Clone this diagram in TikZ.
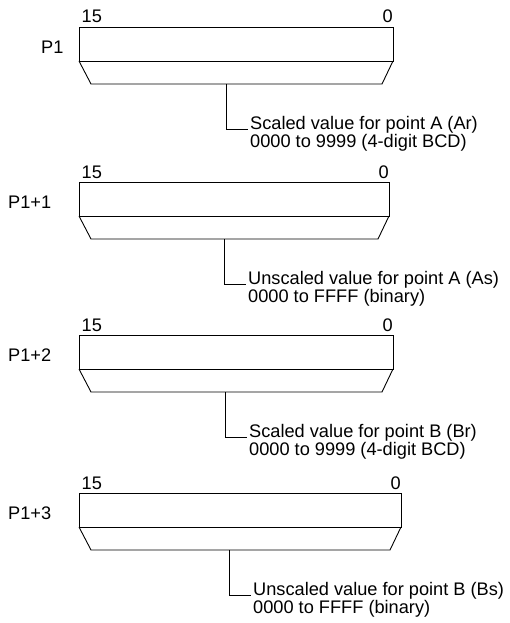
\documentclass[tikz,border=0pt]{standalone}
\usepackage{fontspec}
\setmainfont{Liberation Sans}
\usepackage{tikz}
\usetikzlibrary{positioning}

\tikzset{
  regline/.style={line width=0.9pt, black},
  bitnum/.style={inner sep=0pt},
  regname/.style={inner sep=0pt, anchor=west},
  desc/.style={inner xsep=2pt, inner ysep=0pt, anchor=base west}
}

\begin{document}
\begin{tikzpicture}[x=1pt, y=-1pt, every node/.style={font=\fontsize{18.2}{18.5}\selectfont}]
  \useasboundingbox (0,0) rectangle (509,623);
  \def\L{79}

  % ONE WORD PER OPERAND: box, skirt, bit numbers, name and meaning
  \foreach \i/\t/\r/\s/\px/\reg/\lineA/\lineB in {
      1/27/393/226/41/{P1}/{Scaled value for point A (Ar)}/{0000 to 9999 (4-digit BCD)},
      2/182/389/224/8/{P1+1}/{Unscaled value for point A (As)}/{0000 to FFFF (binary)},
      3/335/393/225/8/{P1+2}/{Scaled value for point B (Br)}/{0000 to 9999 (4-digit BCD)},
      4/493/401/229/8/{P1+3}/{Unscaled value for point B (Bs)}/{0000 to FFFF (binary)}} {
    \draw[regline] (\L,\t) rectangle (\r,\t+34);
    \draw[regline] (\L,\t+34) -- (\L+12,\t+57) -- (\r-11,\t+57) -- (\r,\t+34);

    \node[bitnum, anchor=base west] (msb\i) at (\L+2.5,\t-4) {15};
    \node[bitnum, anchor=base east] (lsb\i) at (\r,\t-4) {0};
    \node[regname] (reg\i) at (\px,\t+20) {\reg};

    % LEADER TO THE MEANING
    \coordinate (stem\i) at (\s,\t+57);
    \node[desc] (val\i) at (\s+22,\t+102) {\lineA};
    \node[desc] (rng\i) at ([yshift=-18.5pt]val\i.base west) {\lineB};
    \draw[regline] (stem\i) |- (val\i.base west);
  }
\end{tikzpicture}
\end{document}
